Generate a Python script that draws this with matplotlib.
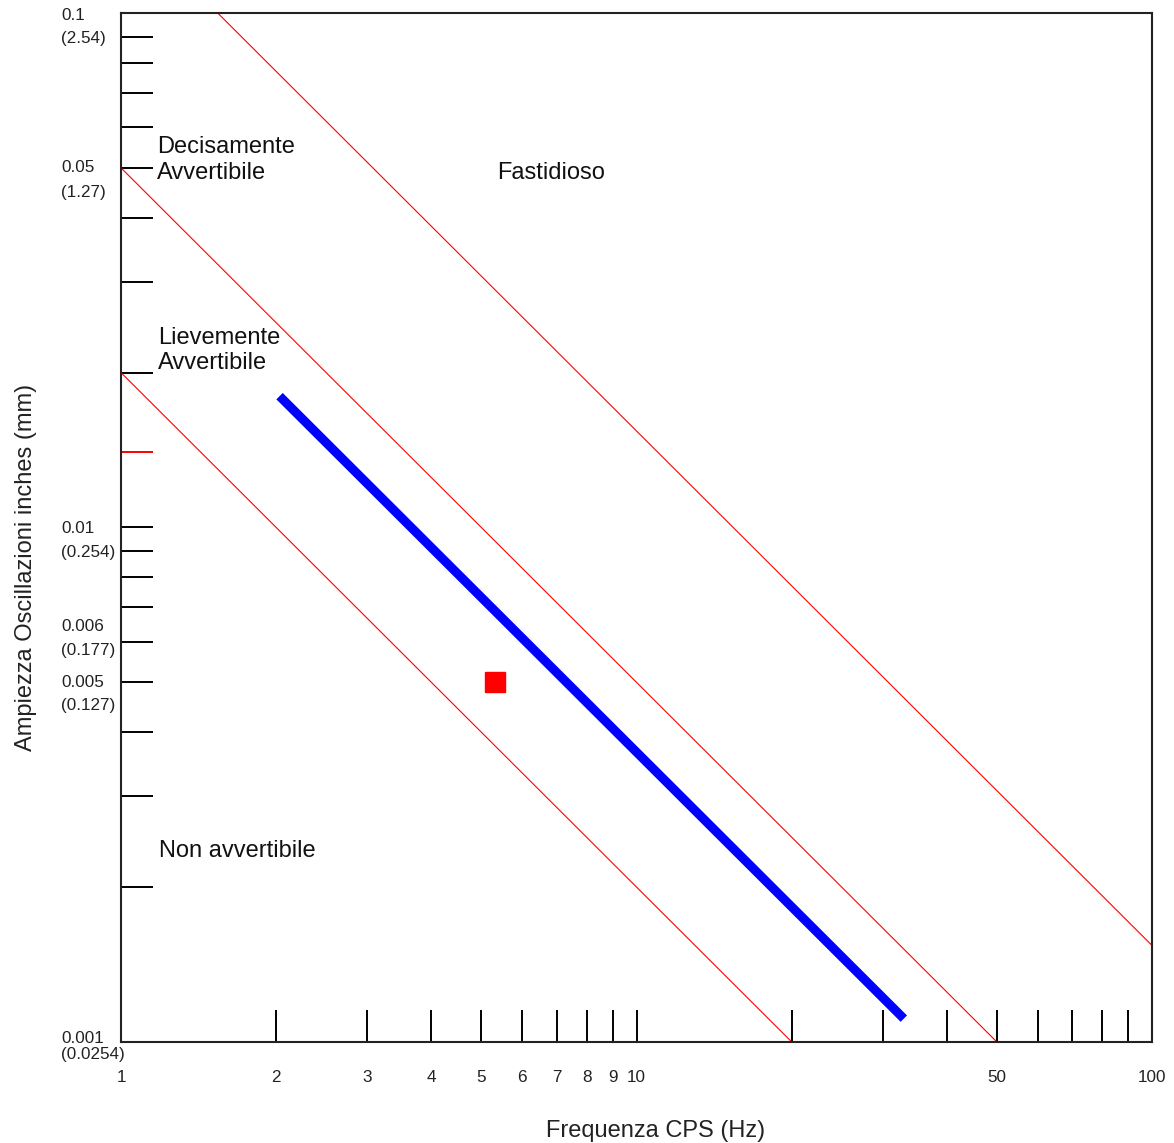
import matplotlib
matplotlib.use('Agg')
import matplotlib.pyplot as plt

plt.rcParams['font.family'] = ['Liberation Sans', 'DejaVu Sans']

# boundary lines (amplitude in inches vs frequency in Hz)
boundary_freq = [[1.54, 100.0], [1.0, 50.0], [1.0, 20.0]]
boundary_amp = [[0.1, 0.00154], [0.05, 0.001], [0.02, 0.001]]

# measured curve
curve_freq = [2.03, 33.0]
curve_amp = [0.0180, 0.00111]

# measured point
point_freq = [5.32]
point_amp = [0.005]

x_ticks = [1, 2, 3, 4, 5, 6, 7, 8, 9, 10, 20, 30, 40, 50, 60, 70, 80, 90, 100]
x_tick_labels = ['1', '2', '3', '4', '5', '6', '7', '8', '9', '10',
                 '', '', '', '50', '', '', '', '', '100']

y_ticks = [0.1, 0.09, 0.08, 0.07, 0.06, 0.05, 0.04, 0.03, 0.02, 0.014,
           0.01, 0.009, 0.008, 0.007, 0.006, 0.005, 0.004, 0.003, 0.002, 0.001]
red_tick = 0.014

y_label_vals = [0.1, 0.05, 0.01, 0.006, 0.005, 0.001]
y_label_in = ['0.1', '0.05', '0.01', '0.006', '0.005', '0.001']
y_label_mm = ['(2.54)', '(1.27)', '(0.254)', '(0.177)', '(0.127)', '(0.0254)']
# pixel offsets of the two label lines from the tick
y_label_off_in = [-2, 0, -1, 15, 0, 3]
y_label_off_mm = [-25, -25, -25, -9, -23, -13]

regions = ['Decisamente\nAvvertibile', 'Fastidioso',
           'Lievemente\nAvvertibile', 'Non avvertibile']
region_pos = [(0.035, 0.857), (0.365, 0.8445), (0.036, 0.672), (0.037, 0.1856)]

fig = plt.figure(figsize=(11.74, 11.43), dpi=100)
ax = fig.add_axes([0.1031, 0.0884, 0.8782, 0.9002])
ax.set_xscale('log')
ax.set_yscale('log')
ax.set_xlim(1, 100)
ax.set_ylim(0.001, 0.1)

for fx, ay in zip(boundary_freq, boundary_amp):
    ax.plot(fx, ay, color='red', lw=0.8)

ax.plot(curve_freq, curve_amp, color='#0000ff', lw=6.5, solid_capstyle='butt')
ax.plot(point_freq, point_amp, 's', color='red', ms=15, mec='red')

ax.set_xticks(x_ticks, x_tick_labels)
ax.set_yticks(y_ticks, [''] * len(y_ticks))
ax.minorticks_off()
ax.tick_params(axis='both', direction='in', length=23, width=1.4,
               color='black', labelsize=12.3, labelcolor='#222222')
ax.tick_params(axis='x', pad=20)
# tick lines are markers, so colour the marker edge
ax.yaxis.get_major_ticks()[y_ticks.index(red_tick)].tick1line.set_markeredgecolor('red')

for v, a, b, oa, ob in zip(y_label_vals, y_label_in, y_label_mm,
                           y_label_off_in, y_label_off_mm):
    ax.annotate(a, xy=(-0.058, v), xycoords=('axes fraction', 'data'),
                xytext=(0, oa), textcoords='offset pixels',
                ha='left', va='center', fontsize=12.3, color='#222222',
                annotation_clip=False)
    ax.annotate(b, xy=(-0.058, v), xycoords=('axes fraction', 'data'),
                xytext=(0, ob), textcoords='offset pixels',
                ha='left', va='center', fontsize=12.3, color='#222222',
                annotation_clip=False)

for txt, (px, py) in zip(regions, region_pos):
    ax.text(px, py, txt, transform=ax.transAxes, ha='left', va='center',
            fontsize=17, color='#111111', linespacing=1.22)

for s in ax.spines.values():
    s.set_linewidth(1.5)
    s.set_color('#222222')

ax.set_xlabel('Frequenza CPS (Hz)', fontsize=17, color='#222222')
ax.set_ylabel('Ampiezza Oscillazioni inches (mm)', fontsize=17, color='#222222')
ax.xaxis.set_label_coords(0.518, -0.076)
ax.yaxis.set_label_coords(-0.0815, 0.4616)

fig.savefig('out.png', dpi=100)
